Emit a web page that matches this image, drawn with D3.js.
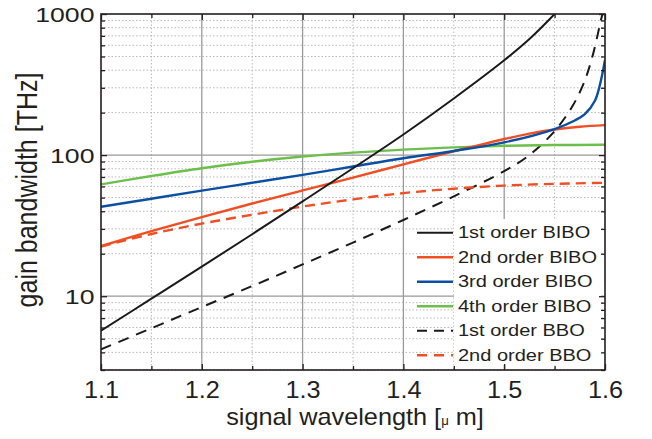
<!DOCTYPE html>
<html>
<head>
<meta charset="utf-8">
<script src="https://cdn.jsdelivr.net/npm/d3@7"></script>
<style>
  html, body { margin: 0; padding: 0; background: #fff; }
  svg { display: block; }
  text { font-family: "Liberation Sans", Arial, Helvetica, sans-serif; fill: #231f20; }
</style>
</head>
<body>
<svg id="chart" width="652" height="439"></svg>
<script>
// ---------------- data ----------------
const seriesNames = ["1st order BIBO", "2nd order BIBO", "3rd order BIBO", "4th order BIBO", "1st order BBO", "2nd order BBO"];
const seriesColors = ["#1a1a1a", "#f04e23", "#0b4fa3", "#6cbf4a", "#1a1a1a", "#f04e23"];
const seriesDashed = [false, false, false, false, true, true];

const bibo1X = [1.10, 1.15, 1.20, 1.25, 1.30, 1.35, 1.40, 1.45, 1.50, 1.525, 1.55, 1.56];
const bibo1Y = [5.7, 9.6, 16.2, 27.5, 47, 80.7, 140, 252, 470, 665, 1000, 1200];

const bibo2X = [1.10, 1.15, 1.20, 1.25, 1.30, 1.35, 1.40, 1.45, 1.475, 1.50, 1.525, 1.55, 1.575, 1.60];
const bibo2Y = [22.7, 28.9, 36.4, 45.4, 56.2, 69.3, 86, 106.5, 117.5, 130, 142, 152, 159, 163];

const bibo3X = [1.10, 1.15, 1.20, 1.25, 1.30, 1.35, 1.40, 1.45, 1.50, 1.55, 1.57, 1.58, 1.59, 1.595, 1.60];
const bibo3Y = [43, 49.1, 56, 63.7, 72.4, 83, 95, 107, 123, 153, 176, 195, 243, 316, 473];

const bibo4X = [1.10, 1.15, 1.20, 1.25, 1.30, 1.35, 1.40, 1.45, 1.50, 1.55, 1.60];
const bibo4Y = [62, 71.1, 80.7, 89.7, 97.7, 104.2, 109.4, 113.5, 116.4, 117.8, 118.3];

const bbo1X = [1.10, 1.15, 1.20, 1.25, 1.30, 1.35, 1.40, 1.45, 1.50, 1.525, 1.55, 1.5675, 1.579, 1.5875, 1.596, 1.5975, 1.599];
const bbo1Y = [4.2, 5.93, 8.38, 11.8, 16.8, 24.0, 34.7, 51, 77, 100, 148, 221, 324, 499, 907, 1000, 1150];

const bbo2X = [1.10, 1.15, 1.20, 1.25, 1.30, 1.35, 1.40, 1.45, 1.50, 1.55, 1.60];
const bbo2Y = [22.5, 27.6, 32.7, 37.8, 43.2, 48.6, 53.8, 57.8, 60.8, 62.6, 63.6];

const xTickValues = [1.1, 1.2, 1.3, 1.4, 1.5, 1.6];
const xMinorValues = [1.15, 1.25, 1.35, 1.45, 1.55];
const yTickValues = [10, 100, 1000];
const yMinorValues = [3, 4, 5, 6, 7, 8, 9, 20, 30, 40, 50, 60, 70, 80, 90, 200, 300, 400, 500, 600, 700, 800, 900];

const xTitle = "signal wavelength [";
const xTitleMu = "\u03bc";
const xTitleEnd = " m]";
const yTitle = "gain bandwidth [THz]";

// ---------------- layout ----------------
const L = 101, R = 605, T = 14, B = 370;
const svg = d3.select("#chart");

const x = d3.scaleLinear().domain([1.1, 1.6]).range([L, R]);
const y = d3.scaleLog().domain([3, 1000]).range([B, T]);

// grid: minor dotted
const grid = svg.append("g");
grid.selectAll("line.xm").data(xMinorValues).enter().append("line")
  .attr("x1", d => x(d)).attr("x2", d => x(d)).attr("y1", T).attr("y2", B)
  .attr("stroke", "#b8b8b8").attr("stroke-width", 1).attr("stroke-dasharray", "1.5,2");
grid.selectAll("line.ym").data(yMinorValues).enter().append("line")
  .attr("y1", d => y(d)).attr("y2", d => y(d)).attr("x1", L).attr("x2", R)
  .attr("stroke", "#b8b8b8").attr("stroke-width", 1).attr("stroke-dasharray", "1.5,2");
// grid: major solid
grid.selectAll("line.xM").data(xTickValues.slice(1, -1)).enter().append("line")
  .attr("x1", d => x(d)).attr("x2", d => x(d)).attr("y1", T).attr("y2", B)
  .attr("stroke", "#9a9a9a").attr("stroke-width", 1.3);
grid.selectAll("line.yM").data(yTickValues.slice(0, -1)).enter().append("line")
  .attr("y1", d => y(d)).attr("y2", d => y(d)).attr("x1", L).attr("x2", R)
  .attr("stroke", "#9a9a9a").attr("stroke-width", 1.3);

// legend background (hides the grid behind the legend texts)
const legX0 = 417, legTextX = 458, legY0 = 232.7, legDY = 24.5;
svg.append("rect").attr("x", 454).attr("y", 219).attr("width", 147).attr("height", 146).attr("fill", "#fff");

// curves
svg.append("clipPath").attr("id", "clip").append("rect")
  .attr("x", L).attr("y", T).attr("width", R - L).attr("height", B - T);

const allX = [bibo1X, bibo2X, bibo3X, bibo4X, bbo1X, bbo2X];
const allY = [bibo1Y, bibo2Y, bibo3Y, bibo4Y, bbo1Y, bbo2Y];
const line = d3.line().x(d => x(d[0])).y(d => y(d[1])).curve(d3.curveCatmullRom.alpha(0.5));
const curves = svg.append("g").attr("clip-path", "url(#clip)");
[4, 5, 3, 1, 2, 0].forEach(i => {
  const pts = allX[i].map((v, j) => [v, allY[i][j]]);
  curves.append("path").attr("d", line(pts))
    .attr("fill", "none").attr("stroke", seriesColors[i])
    .attr("stroke-width", i === 0 || i === 4 ? 2 : 2.4)
    .attr("stroke-dasharray", seriesDashed[i] ? (i === 4 ? "11,8" : "10,6") : null);
});

// frame
svg.append("rect").attr("x", L).attr("y", T).attr("width", R - L).attr("height", B - T)
  .attr("fill", "none").attr("stroke", "#231f20").attr("stroke-width", 1.6);

// axes (inner ticks)
const axStyle = g => { g.select(".domain").remove(); g.selectAll("line").attr("stroke", "#231f20").attr("stroke-width", 1.3); };

const xAxis = svg.append("g").attr("transform", `translate(0,${B})`)
  .call(d3.axisBottom(x).tickValues(xTickValues).tickSize(-6).tickPadding(0).tickFormat(d3.format(".1f")));
axStyle(xAxis);
xAxis.selectAll("text").attr("y", 0).attr("dy", 0).attr("font-size", 23)
  .attr("transform", "translate(0,27.7) scale(1.1,1)").style("fill", "#231f20").style("font-family", "Liberation Sans, Arial, sans-serif");

svg.append("g").attr("transform", `translate(0,${B})`)
  .call(d3.axisBottom(x).tickValues(xMinorValues).tickSize(-4).tickFormat(""))
  .call(axStyle);
svg.append("g").attr("transform", `translate(0,${T})`)
  .call(d3.axisTop(x).tickValues(xTickValues).tickSize(-6).tickFormat(""))
  .call(axStyle);
svg.append("g").attr("transform", `translate(0,${T})`)
  .call(d3.axisTop(x).tickValues(xMinorValues).tickSize(-4).tickFormat(""))
  .call(axStyle);

const yAxis = svg.append("g").attr("transform", `translate(${L},0)`)
  .call(d3.axisLeft(y).tickValues(yTickValues).tickSize(-6).tickPadding(0).tickFormat(d3.format("d")));
axStyle(yAxis);
yAxis.selectAll("text").attr("x", -5).attr("dy", "0.355em").attr("font-size", 20.5)
  .attr("transform", "scale(1.3,1)").style("fill", "#231f20").style("font-family", "Liberation Sans, Arial, sans-serif");

svg.append("g").attr("transform", `translate(${L},0)`)
  .call(d3.axisLeft(y).tickValues(yMinorValues).tickSize(-4).tickFormat(""))
  .call(axStyle);
svg.append("g").attr("transform", `translate(${R},0)`)
  .call(d3.axisRight(y).tickValues(yTickValues).tickSize(-6).tickFormat(""))
  .call(axStyle);
svg.append("g").attr("transform", `translate(${R},0)`)
  .call(d3.axisRight(y).tickValues(yMinorValues).tickSize(-4).tickFormat(""))
  .call(axStyle);

// axis titles
const xt = svg.append("text").attr("transform", "translate(355,425) scale(1.1,1)")
  .attr("text-anchor", "middle").attr("font-size", 23);
xt.append("tspan").text(xTitle);
xt.append("tspan").attr("font-size", 12).text(xTitleMu);
xt.append("tspan").text(xTitleEnd);

svg.append("text").attr("transform", "translate(37,190) rotate(-90) scale(1,1.15)")
  .attr("text-anchor", "middle").attr("font-size", 25).text(yTitle);

// legend
const leg = svg.append("g");
seriesNames.forEach((name, i) => {
  const ly = legY0 + i * legDY;
  leg.append("line").attr("x1", legX0).attr("x2", legX0 + 36).attr("y1", ly).attr("y2", ly)
    .attr("stroke", seriesColors[i]).attr("stroke-width", i === 0 || i === 4 ? 2 : 2.4)
    .attr("stroke-dasharray", seriesDashed[i] ? "10,7" : null);
  leg.append("text").attr("transform", `translate(${legTextX},${ly + 5.6}) scale(1.25,1)`)
    .attr("font-size", 16).text(name);
});
</script>
</body>
</html>
